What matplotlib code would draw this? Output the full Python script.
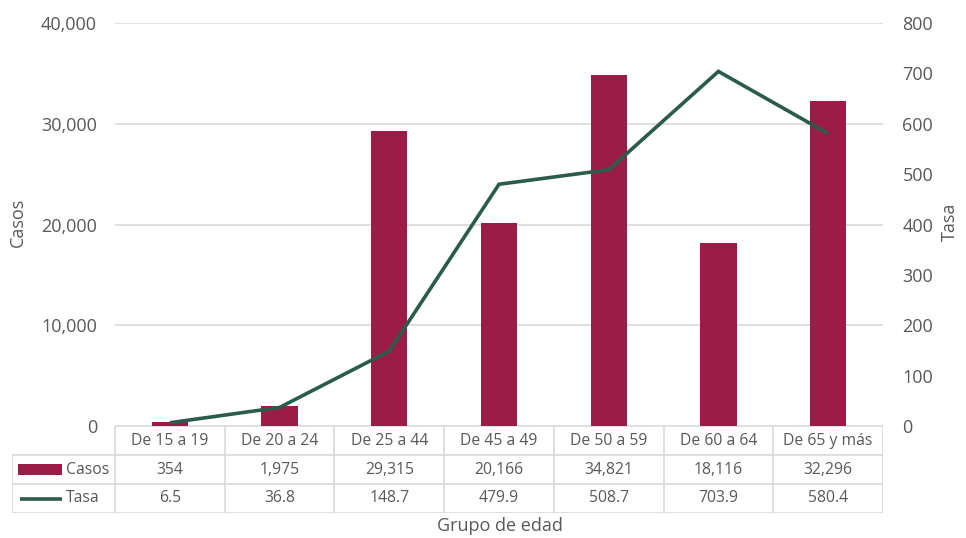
import matplotlib.pyplot as plt
from matplotlib.patches import Rectangle

plt.rcParams['font.family'] = ['Open Sans', 'DejaVu Sans']

# casos y tasa por grupo de edad
grupos = ['De 15 a 19', 'De 20 a 24', 'De 25 a 44', 'De 45 a 49', 'De 50 a 59', 'De 60 a 64', 'De 65 y más']
casos = [354, 1975, 29315, 20166, 34821, 18116, 32296]
tasa = [6.5, 36.8, 148.7, 479.9, 508.7, 703.9, 580.4]

colorBar = '#9b1c47'
colorLine = '#2b5b4b'
textColor = '#595959'
gridColor = '#d9d9d9'

W, H = 966, 538
fig = plt.figure(figsize=(W / 100, H / 100), dpi=100)

# main chart area
ax = fig.add_axes([115 / W, 1 - 426 / H, (883 - 115) / W, (426 - 23) / H])
ax2 = ax.twinx()

x = list(range(len(grupos)))
ax.bar(x, casos, width=0.33, color=colorBar, zorder=2)
ax2.plot(x, tasa, color=colorLine, linewidth=2.6, solid_capstyle='butt', solid_joinstyle='miter', zorder=3)

ax.set_xlim(-0.5, len(grupos) - 0.5)
ax.set_ylim(0, 40000)
ax.set_yticks(range(0, 40001, 10000))
ax.set_yticklabels(['{:,}'.format(v) for v in range(0, 40001, 10000)])
ax2.set_ylim(0, 800)
ax2.set_yticks(range(0, 801, 100))
ax.set_xticks([])

ax.yaxis.grid(True, color=gridColor, linewidth=1.2)
ax.set_axisbelow(True)
for a in (ax, ax2):
	for s in a.spines.values():
		s.set_visible(False)
	a.tick_params(length=0, labelsize=13, labelcolor=textColor)
ax.tick_params(axis='y', pad=13)
ax2.tick_params(axis='y', pad=14)
ax2.set_zorder(ax.get_zorder() + 1)
ax2.patch.set_visible(False)

# axis titles
fig.text(18 / W, 1 - 222 / H, 'Casos', rotation=90, ha='center', va='center', fontsize=13, color=textColor)
fig.text(950 / W, 1 - 222 / H, 'Tasa', rotation=90, ha='center', va='center', fontsize=13, color=textColor)

# data table under the chart, in column units (label column to the left)
labW = (115 - 12) / ((883 - 115) / len(grupos))
tax = fig.add_axes([12 / W, 1 - 513 / H, (883 - 12) / W, (513 - 426) / H])
tax.set_xlim(-0.5 - labW, len(grupos) - 0.5)
tax.set_ylim(3, 0)
tax.axis('off')

left = -0.5 - labW
right = len(grupos) - 0.5
lw = 1.2
tax.plot([-0.5, right], [0, 0], color=gridColor, lw=lw)
for yy in (1, 2, 3):
	tax.plot([left, right], [yy, yy], color=gridColor, lw=lw)
tax.plot([left, left], [1, 3], color=gridColor, lw=lw)
for i in range(len(grupos) + 1):
	tax.plot([i - 0.5, i - 0.5], [0, 3], color=gridColor, lw=lw)

fs = 11.3
for i, g in enumerate(grupos):
	tax.text(i, 0.52, g, ha='center', va='center', fontsize=fs, color=textColor)
	tax.text(i, 1.5, '{:,}'.format(casos[i]), ha='center', va='center', fontsize=fs, color=textColor)
	tax.text(i, 2.5, '{:.1f}'.format(tasa[i]), ha='center', va='center', fontsize=fs, color=textColor)

# legend keys in the row labels
keyL = left + 0.055
keyR = left + 0.455
tax.add_patch(Rectangle((keyL, 1.3), keyR - keyL, 0.4, color=colorBar, lw=0))
tax.plot([keyL + 0.02, keyR], [2.5, 2.5], color=colorLine, lw=2.6, solid_capstyle='butt')
tax.text(keyR + 0.04, 1.5, 'Casos', ha='left', va='center', fontsize=fs, color=textColor)
tax.text(keyR + 0.04, 2.5, 'Tasa', ha='left', va='center', fontsize=fs, color=textColor)

fig.text(500 / W, 1 - 526 / H, 'Grupo de edad', ha='center', va='center', fontsize=13, color=textColor)

fig.savefig('out.png', dpi=100)
